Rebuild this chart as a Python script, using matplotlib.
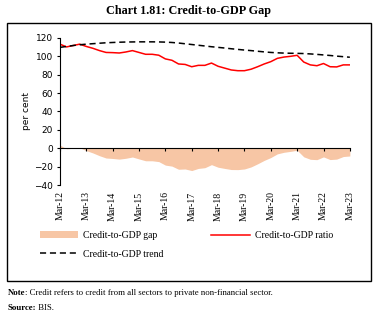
import numpy as np
import matplotlib
matplotlib.use("Agg")
import matplotlib.pyplot as plt
from matplotlib.patches import Rectangle

# quarterly data, Mar-12 to Mar-23
ratio = [113, 110, 111.5, 113, 110.5, 108.5, 106, 104, 103.8, 103.4, 104.5, 106,
         104, 102, 102, 101, 97, 95.5, 91.5, 91, 88.5, 90, 90, 92.5,
         89, 87, 85, 84.2, 84.2, 85.8, 88.5, 91.5, 94, 97.6, 99, 99.8,
         100.9, 93.6, 90.5, 89.6, 92, 88.5, 88.3, 90.5, 90.5]
trend = [109.5, 110.5, 111.5, 112.3, 113, 113.5, 114, 114.5, 114.8, 115.1, 115.3, 115.4,
         115.5, 115.5, 115.5, 115.4, 115.2, 114.8, 114.2, 113.4, 112.6, 111.8, 111, 110.2,
         109.5, 108.8, 108, 107.3, 106.6, 106, 105.3, 104.6, 104, 103.6, 103.3, 103.1,
         103, 102.8, 102.4, 101.9, 101.3, 100.7, 100, 99.4, 98.8]
gap = [3.5, -0.5, 0, 0.7, -2.5, -5, -8, -10.5, -11, -11.7, -10.8, -9.4,
       -11.5, -13.5, -13.5, -14.4, -18.2, -19.3, -22.7, -22.4, -24.1, -21.8, -21, -17.7,
       -20.5, -21.8, -23, -23.1, -22.4, -20.2, -16.8, -13.1, -10, -6, -4.3, -3.3,
       -2.1, -9.2, -11.9, -12.3, -9.3, -12.2, -11.7, -8.9, -8.3]
tick_labels = ["Mar-12", "Mar-13", "Mar-14", "Mar-15", "Mar-16", "Mar-17",
               "Mar-18", "Mar-19", "Mar-20", "Mar-21", "Mar-22", "Mar-23"]

x = np.arange(len(ratio))
serif = "Liberation Serif"

fig = plt.figure(figsize=(3.77, 3.23), dpi=100)
ax = fig.add_axes([0.159, 0.4266, 0.769, 0.4567])

ax.fill_between(x, gap, 0, color="#F7C6A5", linewidth=0, label="Credit-to-GDP gap")
ax.plot(x, ratio, color="#FF0000", lw=1.1, label="Credit-to-GDP ratio")
ax.plot(x, trend, color="black", lw=1.1, linestyle=(0, (4, 2.5)), label="Credit-to-GDP trend")

ax.set_xlim(0, 44)
ax.set_ylim(-40, 120)
ax.set_yticks(range(-40, 121, 20))
ax.tick_params(axis="y", length=2.5, pad=2.5, labelsize=6.5)
for lab in ax.get_yticklabels():
    lab.set_family("DejaVu Sans")

ax.spines["top"].set_visible(False)
ax.spines["right"].set_visible(False)
ax.spines["bottom"].set_position(("data", 0))
ax.set_xticks(range(0, 45, 4))
ax.tick_params(axis="x", length=2.5, labelbottom=False)

sec = ax.secondary_xaxis(0)
sec.set_xticks(range(0, 45, 4), tick_labels, rotation=90, fontsize=7, family=serif)
sec.tick_params(length=0, pad=4.5)
sec.spines["bottom"].set_visible(False)

ax.set_ylabel("per cent", fontsize=6.5, family="DejaVu Sans", labelpad=2)

h, l = ax.get_legend_handles_labels()
order = [0, 2, 1]
fig.legend([h[i] for i in order], [l[i] for i in order], ncol=2,
           loc="upper left", bbox_to_anchor=(0.105, 0.285), frameon=False,
           prop={"family": serif, "size": 7}, handlelength=4, handletextpad=0.5,
           columnspacing=4.9, labelspacing=1.0, borderpad=0, borderaxespad=0)

fig.patches.append(Rectangle((7 / 377, 1 - 281 / 323), 364 / 377, 258 / 323,
                             transform=fig.transFigure, fill=False, lw=1, ec="black"))

fig.text(0.5, 0.967, "Chart 1.81: Credit-to-GDP Gap", ha="center", va="center",
         fontsize=8.7, family=serif, weight="bold")

note = fig.text(0.02, 1 - 297 / 323, "Note", fontsize=6.3, family=serif,
                weight="bold", va="bottom")
ax.annotate(": Credit refers to credit from all sectors to private non-financial sector.",
            xy=(1, 0), xycoords=note, va="bottom", fontsize=6.3, family=serif,
            annotation_clip=False)
src = fig.text(0.02, 1 - 312 / 323, "Source:", fontsize=6.3, family=serif,
               weight="bold", va="bottom")
ax.annotate(" BIS.", xy=(1, 0), xycoords=src, va="bottom", fontsize=6.3,
            family=serif, annotation_clip=False)

fig.savefig("out.png", dpi=100)
